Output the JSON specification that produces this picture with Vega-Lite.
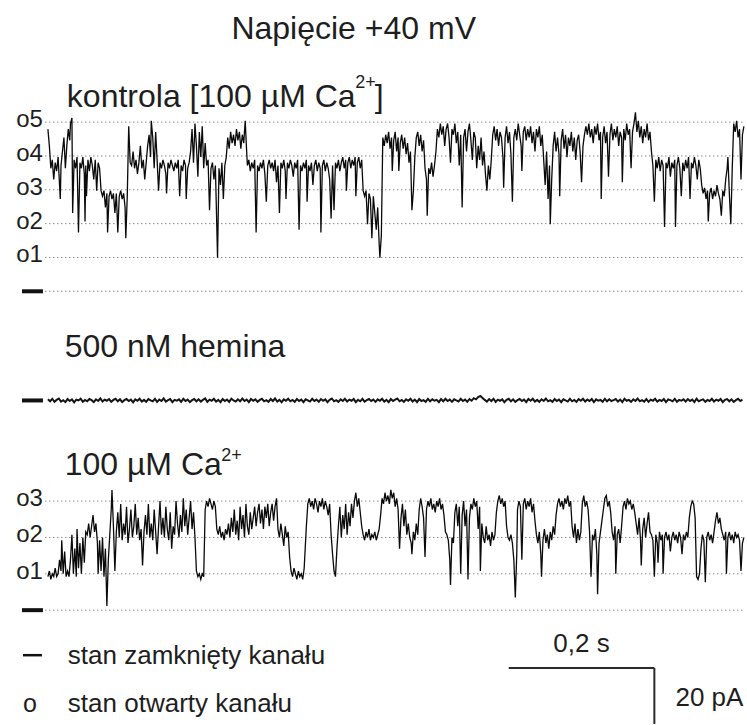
{
  "$schema": "https://vega.github.io/schema/vega-lite/v6.json",
  "width": 747,
  "height": 725,
  "autosize": {"type": "fit", "contains": "padding"},
  "padding": 0,
  "background": "white",
  "config": {
    "view": {"stroke": null},
    "text": {"font": "Liberation Sans", "color": "#1e1e1e"}
  },
  "datasets": {
    "kontrola": [
      {"ms":0,"pA":58},{"ms":2,"pA":52},{"ms":4,"pA":44},{"ms":6,"pA":47},{"ms":8,"pA":40},{"ms":10,"pA":46},{"ms":12,"pA":43},{"ms":14,"pA":48},{"ms":16,"pA":38},{"ms":17,"pA":33},
      {"ms":18,"pA":45},{"ms":20,"pA":50},{"ms":22,"pA":55},{"ms":24,"pA":44},{"ms":26,"pA":52},{"ms":28,"pA":58},{"ms":30,"pA":54},{"ms":31,"pA":60},{"ms":33,"pA":62},{"ms":34,"pA":28},
      {"ms":36,"pA":47},{"ms":38,"pA":44},{"ms":40,"pA":48},{"ms":42,"pA":21},{"ms":44,"pA":46},{"ms":46,"pA":44},{"ms":48,"pA":48},{"ms":50,"pA":42},{"ms":51,"pA":25},{"ms":52,"pA":45},
      {"ms":53,"pA":34},{"ms":55,"pA":47},{"ms":57,"pA":43},{"ms":59,"pA":48},{"ms":61,"pA":45},{"ms":63,"pA":40},{"ms":65,"pA":47},{"ms":67,"pA":36},{"ms":69,"pA":46},{"ms":71,"pA":44},
      {"ms":73,"pA":36},{"ms":75,"pA":34},{"ms":77,"pA":36},{"ms":79,"pA":30},{"ms":81,"pA":35},{"ms":82,"pA":21},{"ms":84,"pA":34},{"ms":86,"pA":36},{"ms":88,"pA":33},{"ms":90,"pA":35},
      {"ms":92,"pA":28},{"ms":94,"pA":35},{"ms":96,"pA":21},{"ms":98,"pA":34},{"ms":100,"pA":36},{"ms":102,"pA":33},{"ms":104,"pA":35},{"ms":106,"pA":30},{"ms":107,"pA":19},{"ms":109,"pA":34},
      {"ms":111,"pA":59},{"ms":113,"pA":46},{"ms":115,"pA":45},{"ms":117,"pA":50},{"ms":119,"pA":44},{"ms":121,"pA":47},{"ms":123,"pA":42},{"ms":125,"pA":46},{"ms":127,"pA":52},{"ms":129,"pA":44},
      {"ms":131,"pA":47},{"ms":133,"pA":40},{"ms":135,"pA":46},{"ms":137,"pA":52},{"ms":139,"pA":56},{"ms":141,"pA":48},{"ms":142,"pA":61},{"ms":144,"pA":55},{"ms":146,"pA":44},{"ms":148,"pA":57},
      {"ms":150,"pA":47},{"ms":152,"pA":36},{"ms":154,"pA":46},{"ms":156,"pA":44},{"ms":158,"pA":47},{"ms":160,"pA":45},{"ms":162,"pA":42},{"ms":163,"pA":35},{"ms":165,"pA":46},{"ms":167,"pA":44},
      {"ms":169,"pA":47},{"ms":171,"pA":45},{"ms":173,"pA":43},{"ms":175,"pA":46},{"ms":177,"pA":44},{"ms":179,"pA":47},{"ms":181,"pA":34},{"ms":183,"pA":45},{"ms":185,"pA":43},{"ms":187,"pA":47},
      {"ms":189,"pA":45},{"ms":190,"pA":33},{"ms":192,"pA":44},{"ms":194,"pA":46},{"ms":196,"pA":50},{"ms":198,"pA":58},{"ms":200,"pA":46},{"ms":202,"pA":60},{"ms":204,"pA":52},{"ms":206,"pA":41},
      {"ms":208,"pA":57},{"ms":210,"pA":48},{"ms":212,"pA":59},{"ms":214,"pA":44},{"ms":216,"pA":53},{"ms":218,"pA":45},{"ms":220,"pA":47},{"ms":222,"pA":29},{"ms":224,"pA":44},{"ms":226,"pA":46},
      {"ms":228,"pA":40},{"ms":230,"pA":45},{"ms":233,"pA":12},{"ms":235,"pA":44},{"ms":237,"pA":38},{"ms":239,"pA":46},{"ms":241,"pA":33},{"ms":243,"pA":45},{"ms":245,"pA":48},{"ms":247,"pA":55},
      {"ms":249,"pA":51},{"ms":251,"pA":57},{"ms":253,"pA":53},{"ms":255,"pA":56},{"ms":257,"pA":52},{"ms":259,"pA":58},{"ms":261,"pA":54},{"ms":263,"pA":57},{"ms":265,"pA":51},{"ms":267,"pA":56},
      {"ms":269,"pA":53},{"ms":271,"pA":61},{"ms":273,"pA":50},{"ms":274,"pA":45},{"ms":276,"pA":47},{"ms":278,"pA":43},{"ms":280,"pA":46},{"ms":282,"pA":44},{"ms":284,"pA":47},{"ms":286,"pA":21},
      {"ms":288,"pA":45},{"ms":290,"pA":43},{"ms":292,"pA":46},{"ms":294,"pA":44},{"ms":296,"pA":47},{"ms":298,"pA":42},{"ms":300,"pA":32},{"ms":302,"pA":45},{"ms":304,"pA":47},{"ms":306,"pA":44},
      {"ms":308,"pA":46},{"ms":310,"pA":43},{"ms":312,"pA":47},{"ms":314,"pA":39},{"ms":316,"pA":45},{"ms":318,"pA":28},{"ms":320,"pA":46},{"ms":322,"pA":44},{"ms":324,"pA":47},{"ms":326,"pA":43},
      {"ms":327,"pA":33},{"ms":329,"pA":46},{"ms":331,"pA":44},{"ms":333,"pA":47},{"ms":335,"pA":45},{"ms":337,"pA":41},{"ms":339,"pA":46},{"ms":341,"pA":44},{"ms":343,"pA":47},{"ms":345,"pA":22},
      {"ms":347,"pA":45},{"ms":349,"pA":43},{"ms":351,"pA":46},{"ms":353,"pA":44},{"ms":355,"pA":47},{"ms":356,"pA":32},{"ms":358,"pA":45},{"ms":360,"pA":43},{"ms":362,"pA":46},{"ms":364,"pA":38},
      {"ms":366,"pA":45},{"ms":368,"pA":47},{"ms":370,"pA":43},{"ms":372,"pA":46},{"ms":374,"pA":44},{"ms":375,"pA":21},{"ms":377,"pA":45},{"ms":379,"pA":47},{"ms":381,"pA":43},{"ms":383,"pA":46},
      {"ms":385,"pA":44},{"ms":387,"pA":40},{"ms":389,"pA":26},{"ms":391,"pA":45},{"ms":393,"pA":29},{"ms":395,"pA":46},{"ms":397,"pA":44},{"ms":399,"pA":47},{"ms":401,"pA":43},{"ms":403,"pA":46},
      {"ms":405,"pA":48},{"ms":407,"pA":44},{"ms":409,"pA":47},{"ms":410,"pA":36},{"ms":412,"pA":46},{"ms":414,"pA":48},{"ms":416,"pA":44},{"ms":418,"pA":47},{"ms":420,"pA":45},{"ms":422,"pA":48},
      {"ms":423,"pA":34},{"ms":425,"pA":46},{"ms":427,"pA":48},{"ms":429,"pA":44},{"ms":431,"pA":47},{"ms":433,"pA":36},{"ms":435,"pA":34},{"ms":437,"pA":36},{"ms":439,"pA":24},{"ms":441,"pA":35},
      {"ms":443,"pA":33},{"ms":445,"pA":19},{"ms":447,"pA":34},{"ms":449,"pA":28},{"ms":451,"pA":22},{"ms":453,"pA":30},{"ms":455,"pA":17},{"ms":456,"pA":12},{"ms":458,"pA":20},{"ms":460,"pA":55},
      {"ms":462,"pA":52},{"ms":464,"pA":56},{"ms":466,"pA":53},{"ms":468,"pA":57},{"ms":470,"pA":51},{"ms":472,"pA":55},{"ms":473,"pA":43},{"ms":475,"pA":54},{"ms":477,"pA":57},{"ms":479,"pA":50},
      {"ms":481,"pA":55},{"ms":482,"pA":43},{"ms":484,"pA":53},{"ms":486,"pA":56},{"ms":488,"pA":51},{"ms":490,"pA":55},{"ms":492,"pA":49},{"ms":494,"pA":53},{"ms":496,"pA":46},{"ms":498,"pA":50},
      {"ms":500,"pA":29},{"ms":502,"pA":36},{"ms":504,"pA":48},{"ms":506,"pA":55},{"ms":508,"pA":57},{"ms":510,"pA":52},{"ms":512,"pA":56},{"ms":514,"pA":50},{"ms":516,"pA":54},{"ms":518,"pA":44},
      {"ms":520,"pA":40},{"ms":521,"pA":27},{"ms":523,"pA":44},{"ms":525,"pA":42},{"ms":527,"pA":46},{"ms":529,"pA":41},{"ms":531,"pA":45},{"ms":533,"pA":50},{"ms":535,"pA":58},{"ms":537,"pA":55},
      {"ms":539,"pA":60},{"ms":541,"pA":56},{"ms":543,"pA":59},{"ms":545,"pA":52},{"ms":547,"pA":58},{"ms":549,"pA":60},{"ms":551,"pA":55},{"ms":553,"pA":46},{"ms":555,"pA":58},{"ms":557,"pA":56},
      {"ms":559,"pA":60},{"ms":561,"pA":53},{"ms":563,"pA":57},{"ms":565,"pA":45},{"ms":567,"pA":56},{"ms":569,"pA":30},{"ms":571,"pA":55},{"ms":573,"pA":58},{"ms":575,"pA":50},{"ms":577,"pA":57},
      {"ms":579,"pA":60},{"ms":581,"pA":54},{"ms":583,"pA":47},{"ms":585,"pA":57},{"ms":587,"pA":55},{"ms":589,"pA":44},{"ms":591,"pA":52},{"ms":593,"pA":47},{"ms":595,"pA":55},{"ms":597,"pA":45},
      {"ms":599,"pA":50},{"ms":601,"pA":42},{"ms":603,"pA":36},{"ms":605,"pA":45},{"ms":607,"pA":40},{"ms":609,"pA":47},{"ms":611,"pA":56},{"ms":613,"pA":59},{"ms":615,"pA":54},{"ms":617,"pA":58},
      {"ms":619,"pA":52},{"ms":621,"pA":57},{"ms":623,"pA":55},{"ms":625,"pA":48},{"ms":626,"pA":37},{"ms":628,"pA":55},{"ms":630,"pA":59},{"ms":632,"pA":53},{"ms":634,"pA":57},{"ms":636,"pA":49},
      {"ms":638,"pA":32},{"ms":640,"pA":55},{"ms":642,"pA":58},{"ms":644,"pA":54},{"ms":646,"pA":60},{"ms":648,"pA":56},{"ms":650,"pA":52},{"ms":651,"pA":43},{"ms":653,"pA":57},{"ms":655,"pA":59},
      {"ms":657,"pA":54},{"ms":659,"pA":58},{"ms":661,"pA":55},{"ms":663,"pA":59},{"ms":665,"pA":53},{"ms":667,"pA":57},{"ms":669,"pA":50},{"ms":671,"pA":58},{"ms":673,"pA":55},{"ms":675,"pA":59},
      {"ms":677,"pA":52},{"ms":679,"pA":56},{"ms":681,"pA":47},{"ms":683,"pA":38},{"ms":685,"pA":50},{"ms":687,"pA":33},{"ms":689,"pA":45},{"ms":690,"pA":24},{"ms":692,"pA":40},{"ms":694,"pA":52},
      {"ms":696,"pA":57},{"ms":698,"pA":50},{"ms":700,"pA":55},{"ms":702,"pA":49},{"ms":703,"pA":34},{"ms":705,"pA":54},{"ms":707,"pA":58},{"ms":709,"pA":51},{"ms":711,"pA":56},{"ms":713,"pA":48},
      {"ms":715,"pA":55},{"ms":717,"pA":52},{"ms":719,"pA":57},{"ms":721,"pA":50},{"ms":723,"pA":55},{"ms":725,"pA":47},{"ms":727,"pA":54},{"ms":729,"pA":56},{"ms":731,"pA":50},{"ms":733,"pA":39},
      {"ms":735,"pA":52},{"ms":737,"pA":56},{"ms":739,"pA":59},{"ms":741,"pA":56},{"ms":743,"pA":60},{"ms":745,"pA":55},{"ms":747,"pA":58},{"ms":749,"pA":53},{"ms":751,"pA":59},{"ms":753,"pA":56},
      {"ms":755,"pA":60},{"ms":757,"pA":54},{"ms":759,"pA":57},{"ms":760,"pA":33},{"ms":762,"pA":55},{"ms":764,"pA":59},{"ms":766,"pA":53},{"ms":768,"pA":57},{"ms":770,"pA":41},{"ms":772,"pA":56},
      {"ms":774,"pA":60},{"ms":776,"pA":54},{"ms":778,"pA":58},{"ms":780,"pA":55},{"ms":782,"pA":59},{"ms":784,"pA":52},{"ms":786,"pA":57},{"ms":788,"pA":55},{"ms":789,"pA":39},{"ms":791,"pA":58},
      {"ms":793,"pA":54},{"ms":795,"pA":60},{"ms":797,"pA":56},{"ms":799,"pA":58},{"ms":801,"pA":44},{"ms":803,"pA":57},{"ms":805,"pA":60},{"ms":807,"pA":64},{"ms":809,"pA":57},{"ms":811,"pA":61},
      {"ms":813,"pA":55},{"ms":815,"pA":59},{"ms":817,"pA":53},{"ms":819,"pA":58},{"ms":821,"pA":55},{"ms":823,"pA":60},{"ms":825,"pA":54},{"ms":827,"pA":57},{"ms":829,"pA":50},{"ms":831,"pA":45},
      {"ms":833,"pA":32},{"ms":835,"pA":47},{"ms":837,"pA":44},{"ms":839,"pA":48},{"ms":841,"pA":43},{"ms":843,"pA":47},{"ms":845,"pA":45},{"ms":847,"pA":23},{"ms":849,"pA":46},{"ms":851,"pA":44},
      {"ms":853,"pA":48},{"ms":855,"pA":41},{"ms":857,"pA":46},{"ms":859,"pA":44},{"ms":861,"pA":47},{"ms":862,"pA":23},{"ms":864,"pA":45},{"ms":866,"pA":48},{"ms":868,"pA":44},{"ms":870,"pA":34},
      {"ms":872,"pA":46},{"ms":874,"pA":43},{"ms":876,"pA":47},{"ms":878,"pA":44},{"ms":880,"pA":48},{"ms":882,"pA":33},{"ms":884,"pA":46},{"ms":886,"pA":44},{"ms":888,"pA":48},{"ms":890,"pA":45},
      {"ms":892,"pA":40},{"ms":894,"pA":47},{"ms":896,"pA":44},{"ms":898,"pA":38},{"ms":900,"pA":35},{"ms":902,"pA":37},{"ms":904,"pA":33},{"ms":906,"pA":36},{"ms":907,"pA":25},{"ms":909,"pA":35},
      {"ms":911,"pA":37},{"ms":913,"pA":33},{"ms":915,"pA":36},{"ms":917,"pA":34},{"ms":919,"pA":38},{"ms":921,"pA":35},{"ms":923,"pA":33},{"ms":925,"pA":27},{"ms":927,"pA":36},{"ms":929,"pA":34},
      {"ms":931,"pA":40},{"ms":933,"pA":44},{"ms":934,"pA":48},{"ms":936,"pA":35},{"ms":938,"pA":24},{"ms":940,"pA":44},{"ms":942,"pA":60},{"ms":944,"pA":57},{"ms":946,"pA":61},{"ms":948,"pA":55},
      {"ms":950,"pA":58},{"ms":952,"pA":40},{"ms":954,"pA":56},{"ms":956,"pA":59}
    ],
    "hemina": [
      {"ms":0,"pA":0.4},{"ms":3,"pA":-0.3},{"ms":6,"pA":0.6},{"ms":9,"pA":-0.5},{"ms":12,"pA":0.2},{"ms":15,"pA":0.7},{"ms":18,"pA":-0.4},{"ms":21,"pA":0.1},{"ms":24,"pA":-0.6},{"ms":27,"pA":0.5},
      {"ms":30,"pA":-0.2},{"ms":33,"pA":0.4},{"ms":36,"pA":-0.7},{"ms":39,"pA":0.3},{"ms":42,"pA":0},{"ms":45,"pA":0.6},{"ms":48,"pA":-0.5},{"ms":51,"pA":0.2},{"ms":54,"pA":-0.3},{"ms":57,"pA":0.5},
      {"ms":60,"pA":0.1},{"ms":63,"pA":-0.6},{"ms":66,"pA":0.4},{"ms":69,"pA":-0.2},{"ms":72,"pA":0.7},{"ms":75,"pA":-0.4},{"ms":78,"pA":0.3},{"ms":81,"pA":-0.1},{"ms":84,"pA":0.5},{"ms":87,"pA":-0.5},
      {"ms":90,"pA":0.2},{"ms":93,"pA":0.6},{"ms":96,"pA":-0.3},{"ms":99,"pA":0.4},{"ms":102,"pA":-0.6},{"ms":105,"pA":0.1},{"ms":108,"pA":0.5},{"ms":111,"pA":-0.2},{"ms":114,"pA":0.3},{"ms":117,"pA":-0.7},
      {"ms":120,"pA":0.4},{"ms":123,"pA":-0.1},{"ms":126,"pA":0.6},{"ms":129,"pA":-0.4},{"ms":132,"pA":0.2},{"ms":135,"pA":-0.5},{"ms":138,"pA":0.5},{"ms":141,"pA":0},{"ms":144,"pA":-0.3},{"ms":147,"pA":0.6},
      {"ms":150,"pA":-0.5},{"ms":153,"pA":0.3},{"ms":156,"pA":-0.2},{"ms":159,"pA":0.7},{"ms":162,"pA":-0.4},{"ms":165,"pA":0.1},{"ms":168,"pA":0.5},{"ms":171,"pA":-0.6},{"ms":174,"pA":0.2},{"ms":177,"pA":-0.1},
      {"ms":180,"pA":0.4},{"ms":183,"pA":-0.5},{"ms":186,"pA":0.6},{"ms":189,"pA":-0.2},{"ms":192,"pA":0.3},{"ms":195,"pA":-0.6},{"ms":198,"pA":0.1},{"ms":201,"pA":0.5},{"ms":204,"pA":-0.3},{"ms":207,"pA":0.4},
      {"ms":210,"pA":-0.4},{"ms":213,"pA":0.2},{"ms":216,"pA":0.7},{"ms":219,"pA":-0.5},{"ms":222,"pA":0.3},{"ms":225,"pA":-0.1},{"ms":228,"pA":0.6},{"ms":231,"pA":-0.4},{"ms":234,"pA":0.2},{"ms":237,"pA":-0.6},
      {"ms":240,"pA":0.5},{"ms":243,"pA":-0.2},{"ms":246,"pA":0.3},{"ms":249,"pA":-0.5},{"ms":252,"pA":0.6},{"ms":255,"pA":0},{"ms":258,"pA":-0.4},{"ms":261,"pA":0.4},{"ms":264,"pA":-0.3},{"ms":267,"pA":0.7},
      {"ms":270,"pA":-0.2},{"ms":273,"pA":0.3},{"ms":276,"pA":-0.6},{"ms":279,"pA":0.5},{"ms":282,"pA":-0.1},{"ms":285,"pA":0.4},{"ms":288,"pA":-0.5},{"ms":291,"pA":0.2},{"ms":294,"pA":0.6},{"ms":297,"pA":-0.3},
      {"ms":300,"pA":0.1},{"ms":303,"pA":-0.5},{"ms":306,"pA":0.5},{"ms":309,"pA":-0.2},{"ms":312,"pA":0.7},{"ms":315,"pA":-0.4},{"ms":318,"pA":0.2},{"ms":321,"pA":-0.6},{"ms":324,"pA":0.4},{"ms":327,"pA":-0.1},
      {"ms":330,"pA":0.6},{"ms":333,"pA":-0.3},{"ms":336,"pA":0.2},{"ms":339,"pA":-0.5},{"ms":342,"pA":0.5},{"ms":345,"pA":-0.2},{"ms":348,"pA":0.3},{"ms":351,"pA":-0.6},{"ms":354,"pA":0.4},{"ms":357,"pA":0},
      {"ms":360,"pA":-0.4},{"ms":363,"pA":0.6},{"ms":366,"pA":-0.2},{"ms":369,"pA":0.3},{"ms":372,"pA":-0.5},{"ms":375,"pA":0.5},{"ms":378,"pA":-0.1},{"ms":381,"pA":0.4},{"ms":384,"pA":-0.6},{"ms":387,"pA":0.2},
      {"ms":390,"pA":0.7},{"ms":393,"pA":-0.3},{"ms":396,"pA":0.1},{"ms":399,"pA":-0.5},{"ms":402,"pA":0.4},{"ms":405,"pA":-0.2},{"ms":408,"pA":0.6},{"ms":411,"pA":-0.4},{"ms":414,"pA":0.3},{"ms":417,"pA":-0.1},
      {"ms":420,"pA":0.5},{"ms":423,"pA":-0.6},{"ms":426,"pA":0.2},{"ms":429,"pA":-0.3},{"ms":432,"pA":0.6},{"ms":435,"pA":-0.4},{"ms":438,"pA":0.1},{"ms":441,"pA":0.5},{"ms":444,"pA":-0.2},{"ms":447,"pA":0.3},
      {"ms":450,"pA":-0.5},{"ms":453,"pA":0.4},{"ms":456,"pA":-0.1},{"ms":459,"pA":0.6},{"ms":462,"pA":-0.4},{"ms":465,"pA":0.2},{"ms":468,"pA":-0.6},{"ms":471,"pA":0.5},{"ms":474,"pA":-0.2},{"ms":477,"pA":0.3},
      {"ms":480,"pA":0.7},{"ms":483,"pA":-0.3},{"ms":486,"pA":0.2},{"ms":489,"pA":-0.5},{"ms":492,"pA":0.4},{"ms":495,"pA":-0.1},{"ms":498,"pA":0.6},{"ms":501,"pA":-0.4},{"ms":504,"pA":0.3},{"ms":507,"pA":-0.6},
      {"ms":510,"pA":0.5},{"ms":513,"pA":-0.2},{"ms":516,"pA":0.1},{"ms":519,"pA":-0.5},{"ms":522,"pA":0.6},{"ms":525,"pA":-0.3},{"ms":528,"pA":0.4},{"ms":531,"pA":-0.1},{"ms":534,"pA":0.2},{"ms":537,"pA":-0.6},
      {"ms":540,"pA":0.5},{"ms":543,"pA":-0.3},{"ms":546,"pA":0.6},{"ms":549,"pA":-0.2},{"ms":552,"pA":0.3},{"ms":555,"pA":-0.5},{"ms":558,"pA":0.4},{"ms":561,"pA":0},{"ms":564,"pA":-0.4},{"ms":567,"pA":0.6},
      {"ms":570,"pA":-0.2},{"ms":573,"pA":0.3},{"ms":576,"pA":-0.5},{"ms":579,"pA":0.5},{"ms":582,"pA":-0.1},{"ms":585,"pA":0.8},{"ms":588,"pA":0.4},{"ms":591,"pA":1.2},{"ms":594,"pA":1.6},{"ms":597,"pA":0.9},
      {"ms":600,"pA":0.2},{"ms":603,"pA":-0.4},{"ms":606,"pA":0.5},{"ms":609,"pA":-0.2},{"ms":612,"pA":0.6},{"ms":615,"pA":-0.5},{"ms":618,"pA":0.3},{"ms":621,"pA":-0.1},{"ms":624,"pA":0.4},{"ms":627,"pA":-0.6},
      {"ms":630,"pA":0.2},{"ms":633,"pA":0.6},{"ms":636,"pA":-0.3},{"ms":639,"pA":0.4},{"ms":642,"pA":-0.5},{"ms":645,"pA":0.1},{"ms":648,"pA":0.5},{"ms":651,"pA":-0.2},{"ms":654,"pA":0.3},{"ms":657,"pA":-0.6},
      {"ms":660,"pA":0.5},{"ms":663,"pA":-0.1},{"ms":666,"pA":0.6},{"ms":669,"pA":-0.4},{"ms":672,"pA":0.2},{"ms":675,"pA":-0.5},{"ms":678,"pA":0.4},{"ms":681,"pA":-0.2},{"ms":684,"pA":0.7},{"ms":687,"pA":-0.3},
      {"ms":690,"pA":0.1},{"ms":693,"pA":-0.5},{"ms":696,"pA":0.5},{"ms":699,"pA":-0.2},{"ms":702,"pA":0.3},{"ms":705,"pA":-0.6},{"ms":708,"pA":0.4},{"ms":711,"pA":0},{"ms":714,"pA":-0.4},{"ms":717,"pA":0.6},
      {"ms":720,"pA":-0.3},{"ms":723,"pA":0.2},{"ms":726,"pA":-0.5},{"ms":729,"pA":0.5},{"ms":732,"pA":-0.1},{"ms":735,"pA":0.6},{"ms":738,"pA":-0.4},{"ms":741,"pA":0.3},{"ms":744,"pA":-0.2},{"ms":747,"pA":0.5},
      {"ms":750,"pA":-0.6},{"ms":753,"pA":0.4},{"ms":756,"pA":-0.1},{"ms":759,"pA":0.2},{"ms":762,"pA":-0.5},{"ms":765,"pA":0.6},{"ms":768,"pA":-0.3},{"ms":771,"pA":0.4},{"ms":774,"pA":-0.2},{"ms":777,"pA":0.1},
      {"ms":780,"pA":0.5},{"ms":783,"pA":-0.4},{"ms":786,"pA":0.3},{"ms":789,"pA":-0.6},{"ms":792,"pA":0.6},{"ms":795,"pA":-0.1},{"ms":798,"pA":0.2},{"ms":801,"pA":-0.5},{"ms":804,"pA":0.4},{"ms":807,"pA":-0.2},
      {"ms":810,"pA":0.7},{"ms":813,"pA":-0.3},{"ms":816,"pA":0.1},{"ms":819,"pA":-0.4},{"ms":822,"pA":0.5},{"ms":825,"pA":-0.5},{"ms":828,"pA":0.3},{"ms":831,"pA":-0.1},{"ms":834,"pA":0.6},{"ms":837,"pA":-0.4},
      {"ms":840,"pA":0.2},{"ms":843,"pA":-0.2},{"ms":846,"pA":0.5},{"ms":849,"pA":-0.6},{"ms":852,"pA":0.4},{"ms":855,"pA":0.1},{"ms":858,"pA":-0.3},{"ms":861,"pA":0.6},{"ms":864,"pA":-0.5},{"ms":867,"pA":0.2},
      {"ms":870,"pA":-0.1},{"ms":873,"pA":0.4},{"ms":876,"pA":-0.4},{"ms":879,"pA":0.5},{"ms":882,"pA":-0.2},{"ms":885,"pA":0.3},{"ms":888,"pA":-0.6},{"ms":891,"pA":0.6},{"ms":894,"pA":-0.3},{"ms":897,"pA":0.1},
      {"ms":900,"pA":0.4},{"ms":903,"pA":-0.5},{"ms":906,"pA":0.2},{"ms":909,"pA":-0.2},{"ms":912,"pA":0.6},{"ms":915,"pA":-0.4},{"ms":918,"pA":0.3},{"ms":921,"pA":-0.1},{"ms":924,"pA":0.5},{"ms":927,"pA":-0.6},
      {"ms":930,"pA":0.2},{"ms":933,"pA":0.5},{"ms":936,"pA":-0.3},{"ms":939,"pA":0.4},{"ms":942,"pA":-0.5},{"ms":945,"pA":0.1},{"ms":948,"pA":0.6},{"ms":951,"pA":-0.2},{"ms":954,"pA":0.3}
    ],
    "wapn": [
      {"ms":0,"pA":12},{"ms":2,"pA":14},{"ms":4,"pA":11},{"ms":6,"pA":13},{"ms":8,"pA":12},{"ms":10,"pA":15},{"ms":12,"pA":12},{"ms":14,"pA":13},{"ms":16,"pA":18},{"ms":18,"pA":14},
      {"ms":19,"pA":25},{"ms":21,"pA":13},{"ms":23,"pA":21},{"ms":25,"pA":12},{"ms":27,"pA":14},{"ms":29,"pA":12},{"ms":31,"pA":18},{"ms":33,"pA":27},{"ms":35,"pA":13},{"ms":37,"pA":22},
      {"ms":39,"pA":12},{"ms":40,"pA":29},{"ms":42,"pA":15},{"ms":44,"pA":24},{"ms":46,"pA":13},{"ms":48,"pA":26},{"ms":50,"pA":17},{"ms":52,"pA":28},{"ms":54,"pA":27},{"ms":56,"pA":31},
      {"ms":58,"pA":26},{"ms":60,"pA":30},{"ms":62,"pA":34},{"ms":64,"pA":28},{"ms":66,"pA":31},{"ms":68,"pA":24},{"ms":69,"pA":13},{"ms":71,"pA":25},{"ms":73,"pA":14},{"ms":75,"pA":26},
      {"ms":77,"pA":12},{"ms":79,"pA":22},{"ms":81,"pA":1.5},{"ms":83,"pA":18},{"ms":85,"pA":27},{"ms":87,"pA":36},{"ms":88,"pA":43},{"ms":90,"pA":30},{"ms":92,"pA":14},{"ms":94,"pA":28},
      {"ms":96,"pA":35},{"ms":98,"pA":26},{"ms":100,"pA":38},{"ms":102,"pA":25},{"ms":104,"pA":31},{"ms":106,"pA":27},{"ms":108,"pA":37},{"ms":110,"pA":24},{"ms":112,"pA":29},{"ms":114,"pA":36},
      {"ms":116,"pA":26},{"ms":118,"pA":30},{"ms":120,"pA":38},{"ms":122,"pA":27},{"ms":124,"pA":33},{"ms":126,"pA":25},{"ms":128,"pA":29},{"ms":130,"pA":16},{"ms":132,"pA":28},{"ms":134,"pA":34},
      {"ms":136,"pA":27},{"ms":138,"pA":38},{"ms":140,"pA":26},{"ms":142,"pA":31},{"ms":144,"pA":25},{"ms":146,"pA":36},{"ms":148,"pA":28},{"ms":150,"pA":20},{"ms":152,"pA":30},{"ms":154,"pA":39},
      {"ms":156,"pA":27},{"ms":158,"pA":33},{"ms":160,"pA":26},{"ms":162,"pA":37},{"ms":164,"pA":29},{"ms":166,"pA":25},{"ms":168,"pA":35},{"ms":170,"pA":22},{"ms":172,"pA":30},{"ms":174,"pA":27},
      {"ms":176,"pA":39},{"ms":178,"pA":31},{"ms":180,"pA":26},{"ms":182,"pA":34},{"ms":184,"pA":28},{"ms":186,"pA":40},{"ms":188,"pA":30},{"ms":190,"pA":36},{"ms":192,"pA":27},{"ms":194,"pA":33},
      {"ms":196,"pA":39},{"ms":198,"pA":29},{"ms":200,"pA":35},{"ms":202,"pA":26},{"ms":204,"pA":14},{"ms":206,"pA":12},{"ms":208,"pA":13},{"ms":210,"pA":11},{"ms":212,"pA":13},{"ms":214,"pA":12},
      {"ms":216,"pA":36},{"ms":218,"pA":39},{"ms":220,"pA":37},{"ms":222,"pA":40},{"ms":224,"pA":38},{"ms":226,"pA":36},{"ms":228,"pA":39},{"ms":230,"pA":37},{"ms":232,"pA":29},{"ms":234,"pA":27},
      {"ms":236,"pA":30},{"ms":238,"pA":26},{"ms":240,"pA":28},{"ms":242,"pA":25},{"ms":244,"pA":29},{"ms":246,"pA":27},{"ms":248,"pA":31},{"ms":250,"pA":26},{"ms":252,"pA":33},{"ms":254,"pA":28},
      {"ms":256,"pA":36},{"ms":258,"pA":27},{"ms":260,"pA":32},{"ms":262,"pA":25},{"ms":264,"pA":37},{"ms":266,"pA":29},{"ms":268,"pA":34},{"ms":270,"pA":26},{"ms":272,"pA":38},{"ms":274,"pA":30},
      {"ms":276,"pA":27},{"ms":278,"pA":35},{"ms":280,"pA":29},{"ms":282,"pA":33},{"ms":284,"pA":37},{"ms":286,"pA":30},{"ms":288,"pA":35},{"ms":290,"pA":38},{"ms":292,"pA":31},{"ms":294,"pA":36},
      {"ms":296,"pA":29},{"ms":298,"pA":37},{"ms":300,"pA":33},{"ms":302,"pA":38},{"ms":304,"pA":30},{"ms":306,"pA":35},{"ms":308,"pA":38},{"ms":310,"pA":32},{"ms":312,"pA":37},{"ms":314,"pA":40},
      {"ms":316,"pA":29},{"ms":318,"pA":26},{"ms":320,"pA":31},{"ms":322,"pA":27},{"ms":324,"pA":23},{"ms":326,"pA":30},{"ms":328,"pA":26},{"ms":330,"pA":28},{"ms":332,"pA":19},{"ms":334,"pA":14},
      {"ms":336,"pA":12},{"ms":338,"pA":15},{"ms":340,"pA":13},{"ms":342,"pA":11},{"ms":344,"pA":14},{"ms":346,"pA":12},{"ms":348,"pA":13},{"ms":350,"pA":11},{"ms":352,"pA":15},{"ms":355,"pA":30},
      {"ms":357,"pA":38},{"ms":359,"pA":40},{"ms":361,"pA":37},{"ms":363,"pA":39},{"ms":365,"pA":36},{"ms":367,"pA":40},{"ms":369,"pA":38},{"ms":371,"pA":35},{"ms":373,"pA":39},{"ms":375,"pA":37},
      {"ms":377,"pA":40},{"ms":379,"pA":36},{"ms":381,"pA":39},{"ms":383,"pA":37},{"ms":385,"pA":34},{"ms":387,"pA":38},{"ms":389,"pA":27},{"ms":391,"pA":20},{"ms":393,"pA":14},{"ms":395,"pA":12},
      {"ms":397,"pA":22},{"ms":399,"pA":30},{"ms":401,"pA":37},{"ms":403,"pA":26},{"ms":405,"pA":34},{"ms":407,"pA":29},{"ms":409,"pA":38},{"ms":411,"pA":27},{"ms":413,"pA":35},{"ms":415,"pA":30},
      {"ms":417,"pA":38},{"ms":419,"pA":33},{"ms":421,"pA":39},{"ms":423,"pA":42},{"ms":425,"pA":37},{"ms":427,"pA":40},{"ms":429,"pA":35},{"ms":431,"pA":30},{"ms":433,"pA":27},{"ms":435,"pA":25},
      {"ms":437,"pA":28},{"ms":439,"pA":26},{"ms":441,"pA":29},{"ms":443,"pA":25},{"ms":445,"pA":27},{"ms":447,"pA":26},{"ms":449,"pA":28},{"ms":451,"pA":25},{"ms":453,"pA":27},{"ms":455,"pA":29},
      {"ms":457,"pA":34},{"ms":459,"pA":40},{"ms":461,"pA":38},{"ms":463,"pA":42},{"ms":465,"pA":39},{"ms":467,"pA":41},{"ms":469,"pA":38},{"ms":471,"pA":43},{"ms":473,"pA":40},{"ms":475,"pA":42},
      {"ms":477,"pA":37},{"ms":479,"pA":40},{"ms":481,"pA":36},{"ms":483,"pA":22},{"ms":485,"pA":33},{"ms":487,"pA":38},{"ms":489,"pA":30},{"ms":491,"pA":36},{"ms":493,"pA":27},{"ms":495,"pA":31},
      {"ms":497,"pA":26},{"ms":499,"pA":24},{"ms":500,"pA":20},{"ms":502,"pA":28},{"ms":504,"pA":25},{"ms":506,"pA":31},{"ms":508,"pA":27},{"ms":510,"pA":36},{"ms":512,"pA":40},{"ms":514,"pA":37},
      {"ms":516,"pA":33},{"ms":518,"pA":19},{"ms":520,"pA":36},{"ms":522,"pA":39},{"ms":524,"pA":37},{"ms":526,"pA":40},{"ms":528,"pA":36},{"ms":530,"pA":38},{"ms":532,"pA":35},{"ms":534,"pA":39},
      {"ms":536,"pA":37},{"ms":538,"pA":40},{"ms":540,"pA":36},{"ms":542,"pA":38},{"ms":544,"pA":34},{"ms":546,"pA":28},{"ms":548,"pA":27},{"ms":550,"pA":25},{"ms":552,"pA":18},{"ms":553,"pA":9},
      {"ms":555,"pA":26},{"ms":557,"pA":24},{"ms":559,"pA":35},{"ms":561,"pA":38},{"ms":563,"pA":30},{"ms":565,"pA":37},{"ms":567,"pA":13},{"ms":569,"pA":34},{"ms":571,"pA":39},{"ms":573,"pA":30},
      {"ms":575,"pA":36},{"ms":577,"pA":11},{"ms":579,"pA":33},{"ms":581,"pA":38},{"ms":583,"pA":36},{"ms":585,"pA":40},{"ms":587,"pA":37},{"ms":589,"pA":39},{"ms":591,"pA":29},{"ms":593,"pA":37},
      {"ms":594,"pA":14},{"ms":596,"pA":31},{"ms":598,"pA":26},{"ms":600,"pA":24},{"ms":602,"pA":30},{"ms":604,"pA":25},{"ms":606,"pA":27},{"ms":608,"pA":23},{"ms":610,"pA":28},{"ms":612,"pA":25},
      {"ms":614,"pA":27},{"ms":616,"pA":35},{"ms":618,"pA":39},{"ms":620,"pA":41},{"ms":622,"pA":38},{"ms":624,"pA":40},{"ms":626,"pA":37},{"ms":628,"pA":39},{"ms":630,"pA":30},{"ms":632,"pA":26},
      {"ms":634,"pA":25},{"ms":636,"pA":27},{"ms":638,"pA":24},{"ms":640,"pA":18},{"ms":642,"pA":4.5},{"ms":644,"pA":20},{"ms":645,"pA":36},{"ms":647,"pA":39},{"ms":649,"pA":37},{"ms":651,"pA":18},
      {"ms":653,"pA":38},{"ms":655,"pA":40},{"ms":657,"pA":36},{"ms":659,"pA":39},{"ms":661,"pA":37},{"ms":663,"pA":40},{"ms":665,"pA":35},{"ms":667,"pA":38},{"ms":669,"pA":32},{"ms":671,"pA":27},
      {"ms":673,"pA":24},{"ms":675,"pA":28},{"ms":677,"pA":20},{"ms":678,"pA":12},{"ms":680,"pA":25},{"ms":682,"pA":29},{"ms":684,"pA":24},{"ms":686,"pA":27},{"ms":688,"pA":22},{"ms":690,"pA":28},
      {"ms":692,"pA":25},{"ms":694,"pA":30},{"ms":696,"pA":27},{"ms":698,"pA":34},{"ms":700,"pA":38},{"ms":702,"pA":40},{"ms":704,"pA":37},{"ms":706,"pA":39},{"ms":708,"pA":36},{"ms":710,"pA":40},
      {"ms":712,"pA":38},{"ms":714,"pA":41},{"ms":716,"pA":37},{"ms":718,"pA":39},{"ms":720,"pA":30},{"ms":722,"pA":26},{"ms":724,"pA":31},{"ms":726,"pA":24},{"ms":728,"pA":29},{"ms":730,"pA":25},
      {"ms":732,"pA":28},{"ms":734,"pA":38},{"ms":736,"pA":41},{"ms":738,"pA":37},{"ms":740,"pA":39},{"ms":742,"pA":36},{"ms":744,"pA":28},{"ms":746,"pA":12},{"ms":748,"pA":27},{"ms":750,"pA":25},
      {"ms":752,"pA":29},{"ms":754,"pA":20},{"ms":755,"pA":5.7},{"ms":757,"pA":24},{"ms":759,"pA":28},{"ms":761,"pA":32},{"ms":763,"pA":36},{"ms":765,"pA":40},{"ms":767,"pA":41},{"ms":769,"pA":37},
      {"ms":771,"pA":39},{"ms":773,"pA":35},{"ms":775,"pA":28},{"ms":777,"pA":25},{"ms":779,"pA":30},{"ms":780,"pA":13},{"ms":782,"pA":27},{"ms":784,"pA":29},{"ms":786,"pA":24},{"ms":788,"pA":30},
      {"ms":790,"pA":37},{"ms":792,"pA":39},{"ms":794,"pA":36},{"ms":796,"pA":40},{"ms":798,"pA":38},{"ms":800,"pA":39},{"ms":802,"pA":36},{"ms":804,"pA":38},{"ms":806,"pA":35},{"ms":808,"pA":31},
      {"ms":810,"pA":27},{"ms":812,"pA":33},{"ms":814,"pA":25},{"ms":815,"pA":16},{"ms":817,"pA":29},{"ms":819,"pA":33},{"ms":821,"pA":26},{"ms":823,"pA":31},{"ms":825,"pA":35},{"ms":827,"pA":28},
      {"ms":829,"pA":27},{"ms":831,"pA":25},{"ms":833,"pA":12},{"ms":835,"pA":27},{"ms":837,"pA":24},{"ms":838,"pA":17},{"ms":840,"pA":28},{"ms":842,"pA":25},{"ms":844,"pA":27},{"ms":845,"pA":13},
      {"ms":847,"pA":26},{"ms":849,"pA":28},{"ms":851,"pA":25},{"ms":853,"pA":27},{"ms":855,"pA":21},{"ms":857,"pA":26},{"ms":859,"pA":28},{"ms":861,"pA":25},{"ms":863,"pA":27},{"ms":865,"pA":24},
      {"ms":867,"pA":28},{"ms":869,"pA":26},{"ms":871,"pA":20},{"ms":873,"pA":27},{"ms":875,"pA":25},{"ms":877,"pA":28},{"ms":879,"pA":26},{"ms":881,"pA":33},{"ms":883,"pA":37},{"ms":885,"pA":39},
      {"ms":887,"pA":38},{"ms":889,"pA":33},{"ms":891,"pA":12},{"ms":893,"pA":11},{"ms":895,"pA":13},{"ms":897,"pA":22},{"ms":899,"pA":27},{"ms":901,"pA":25},{"ms":903,"pA":10},{"ms":905,"pA":26},
      {"ms":907,"pA":28},{"ms":909,"pA":25},{"ms":911,"pA":27},{"ms":913,"pA":24},{"ms":915,"pA":28},{"ms":917,"pA":32},{"ms":919,"pA":35},{"ms":921,"pA":31},{"ms":923,"pA":33},{"ms":925,"pA":29},
      {"ms":927,"pA":27},{"ms":929,"pA":25},{"ms":931,"pA":28},{"ms":932,"pA":13},{"ms":934,"pA":26},{"ms":936,"pA":28},{"ms":938,"pA":25},{"ms":940,"pA":27},{"ms":942,"pA":24},{"ms":944,"pA":28},
      {"ms":946,"pA":26},{"ms":948,"pA":27},{"ms":950,"pA":25},{"ms":952,"pA":14},{"ms":954,"pA":24},{"ms":956,"pA":26}
    ]
  },
  "resolve": {"scale": {"y": "independent"}},
  "layer": [
    {
      "layer": [
        {
          "data": {"values": [{"pA": 0}, {"pA": 12.1}, {"pA": 24.2}, {"pA": 36.3}, {"pA": 48.4}, {"pA": 60.5}]},
          "mark": {"type": "rule", "color": "#8c8c8c", "strokeWidth": 1, "strokeDash": [1.5, 2.5]},
          "encoding": {
            "x": {"datum": -4, "type": "quantitative", "scale": {"domain": [-65.8, 957.5], "nice": false, "zero": false}, "axis": null},
            "x2": {"datum": 957.5},
            "y": {"field": "pA", "type": "quantitative", "scale": {"domain": [-154.75, 104.18], "nice": false, "zero": false}, "axis": null}
          }
        },
        {
          "data": {"values": [{"state": "o1", "pA": 12.1}, {"state": "o2", "pA": 24.2}, {"state": "o3", "pA": 36.3}, {"state": "o4", "pA": 48.4}, {"state": "o5", "pA": 60.5}]},
          "mark": {"type": "text", "align": "right", "baseline": "alphabetic", "dy": 5, "fontSize": 24},
          "encoding": {
            "x": {"datum": -6.8, "type": "quantitative", "scale": {"domain": [-65.8, 957.5], "nice": false, "zero": false}, "axis": null},
            "y": {"field": "pA", "type": "quantitative", "scale": {"domain": [-154.75, 104.18], "nice": false, "zero": false}, "axis": null},
            "text": {"field": "state"}
          }
        },
        {
          "data": {"values": [{"pA": 0}]},
          "mark": {"type": "rule", "color": "#111111", "strokeWidth": 4},
          "encoding": {
            "x": {"datum": -35.6, "type": "quantitative", "scale": {"domain": [-65.8, 957.5], "nice": false, "zero": false}, "axis": null},
            "x2": {"datum": -6.8},
            "y": {"field": "pA", "type": "quantitative", "scale": {"domain": [-154.75, 104.18], "nice": false, "zero": false}, "axis": null}
          }
        },
        {
          "data": {"name": "kontrola"},
          "mark": {"type": "line", "color": "#0a0a0a", "strokeWidth": 1.3},
          "encoding": {
            "x": {"field": "ms", "type": "quantitative", "scale": {"domain": [-65.8, 957.5], "nice": false, "zero": false}, "axis": null},
            "y": {"field": "pA", "type": "quantitative", "scale": {"domain": [-154.75, 104.18], "nice": false, "zero": false}, "axis": null}
          }
        },
        {
          "data": {"values": [{}]},
          "mark": {"type": "text", "align": "center", "baseline": "alphabetic", "fontSize": 32},
          "encoding": {
            "x": {"datum": 420, "type": "quantitative", "scale": {"domain": [-65.8, 957.5], "nice": false, "zero": false}, "axis": null},
            "y": {"datum": 90.25, "type": "quantitative", "scale": {"domain": [-154.75, 104.18], "nice": false, "zero": false}, "axis": null},
            "text": {"value": "Napięcie +40 mV"}
          }
        },
        {
          "data": {"values": [{}]},
          "mark": {"type": "text", "align": "left", "baseline": "alphabetic", "fontSize": 32},
          "encoding": {
            "x": {"datum": 26, "type": "quantitative", "scale": {"domain": [-65.8, 957.5], "nice": false, "zero": false}, "axis": null},
            "y": {"datum": 66, "type": "quantitative", "scale": {"domain": [-154.75, 104.18], "nice": false, "zero": false}, "axis": null},
            "text": {"value": "kontrola [100 µM Ca"}
          }
        },
        {
          "data": {"values": [{}]},
          "mark": {"type": "text", "align": "left", "baseline": "alphabetic", "fontSize": 18},
          "encoding": {
            "x": {"datum": 422, "type": "quantitative", "scale": {"domain": [-65.8, 957.5], "nice": false, "zero": false}, "axis": null},
            "y": {"datum": 72.75, "type": "quantitative", "scale": {"domain": [-154.75, 104.18], "nice": false, "zero": false}, "axis": null},
            "text": {"value": "2+"}
          }
        },
        {
          "data": {"values": [{}]},
          "mark": {"type": "text", "align": "left", "baseline": "alphabetic", "fontSize": 32},
          "encoding": {
            "x": {"datum": 449, "type": "quantitative", "scale": {"domain": [-65.8, 957.5], "nice": false, "zero": false}, "axis": null},
            "y": {"datum": 66, "type": "quantitative", "scale": {"domain": [-154.75, 104.18], "nice": false, "zero": false}, "axis": null},
            "text": {"value": "]"}
          }
        }
      ]
    },
    {
      "layer": [
        {
          "data": {"values": [{"pA": 0}]},
          "mark": {"type": "rule", "color": "#111111", "strokeWidth": 4},
          "encoding": {
            "x": {"datum": -35.6, "type": "quantitative", "scale": {"domain": [-65.8, 957.5], "nice": false, "zero": false}, "axis": null},
            "x2": {"datum": -6.8},
            "y": {"field": "pA", "type": "quantitative", "scale": {"domain": [-115.71, 143.21], "nice": false, "zero": false}, "axis": null}
          }
        },
        {
          "data": {"name": "hemina"},
          "mark": {"type": "line", "color": "#141414", "strokeWidth": 2},
          "encoding": {
            "x": {"field": "ms", "type": "quantitative", "scale": {"domain": [-65.8, 957.5], "nice": false, "zero": false}, "axis": null},
            "y": {"field": "pA", "type": "quantitative", "scale": {"domain": [-115.71, 143.21], "nice": false, "zero": false}, "axis": null}
          }
        },
        {
          "data": {"values": [{}]},
          "mark": {"type": "text", "align": "left", "baseline": "alphabetic", "fontSize": 32},
          "encoding": {
            "x": {"datum": 23, "type": "quantitative", "scale": {"domain": [-65.8, 957.5], "nice": false, "zero": false}, "axis": null},
            "y": {"datum": 15.7, "type": "quantitative", "scale": {"domain": [-115.71, 143.21], "nice": false, "zero": false}, "axis": null},
            "text": {"value": "500 nM hemina"}
          }
        }
      ]
    },
    {
      "layer": [
        {
          "data": {"values": [{"pA": 0}, {"pA": 13}, {"pA": 26}, {"pA": 39}]},
          "mark": {"type": "rule", "color": "#8c8c8c", "strokeWidth": 1, "strokeDash": [1.5, 2.5]},
          "encoding": {
            "x": {"datum": -4, "type": "quantitative", "scale": {"domain": [-65.8, 957.5], "nice": false, "zero": false}, "axis": null},
            "x2": {"datum": 957.5},
            "y": {"field": "pA", "type": "quantitative", "scale": {"domain": [-40.71, 218.21], "nice": false, "zero": false}, "axis": null}
          }
        },
        {
          "data": {"values": [{"state": "o1", "pA": 13}, {"state": "o2", "pA": 26}, {"state": "o3", "pA": 39}]},
          "mark": {"type": "text", "align": "right", "baseline": "alphabetic", "dy": 5, "fontSize": 24},
          "encoding": {
            "x": {"datum": -6.8, "type": "quantitative", "scale": {"domain": [-65.8, 957.5], "nice": false, "zero": false}, "axis": null},
            "y": {"field": "pA", "type": "quantitative", "scale": {"domain": [-40.71, 218.21], "nice": false, "zero": false}, "axis": null},
            "text": {"field": "state"}
          }
        },
        {
          "data": {"values": [{"pA": 0}]},
          "mark": {"type": "rule", "color": "#111111", "strokeWidth": 4},
          "encoding": {
            "x": {"datum": -35.6, "type": "quantitative", "scale": {"domain": [-65.8, 957.5], "nice": false, "zero": false}, "axis": null},
            "x2": {"datum": -6.8},
            "y": {"field": "pA", "type": "quantitative", "scale": {"domain": [-40.71, 218.21], "nice": false, "zero": false}, "axis": null}
          }
        },
        {
          "data": {"name": "wapn"},
          "mark": {"type": "line", "color": "#0a0a0a", "strokeWidth": 1.3},
          "encoding": {
            "x": {"field": "ms", "type": "quantitative", "scale": {"domain": [-65.8, 957.5], "nice": false, "zero": false}, "axis": null},
            "y": {"field": "pA", "type": "quantitative", "scale": {"domain": [-40.71, 218.21], "nice": false, "zero": false}, "axis": null}
          }
        },
        {
          "data": {"values": [{}]},
          "mark": {"type": "text", "align": "left", "baseline": "alphabetic", "fontSize": 32},
          "encoding": {
            "x": {"datum": 23, "type": "quantitative", "scale": {"domain": [-65.8, 957.5], "nice": false, "zero": false}, "axis": null},
            "y": {"datum": 48.2, "type": "quantitative", "scale": {"domain": [-40.71, 218.21], "nice": false, "zero": false}, "axis": null},
            "text": {"value": "100 µM Ca"}
          }
        },
        {
          "data": {"values": [{}]},
          "mark": {"type": "text", "align": "left", "baseline": "alphabetic", "fontSize": 18},
          "encoding": {
            "x": {"datum": 238, "type": "quantitative", "scale": {"domain": [-65.8, 957.5], "nice": false, "zero": false}, "axis": null},
            "y": {"datum": 53.5, "type": "quantitative", "scale": {"domain": [-40.71, 218.21], "nice": false, "zero": false}, "axis": null},
            "text": {"value": "2+"}
          }
        },
        {
          "data": {"values": [{}]},
          "mark": {"type": "rule", "color": "#111111", "strokeWidth": 2.5},
          "encoding": {
            "x": {"datum": -34.2, "type": "quantitative", "scale": {"domain": [-65.8, 957.5], "nice": false, "zero": false}, "axis": null},
            "x2": {"datum": -8.2},
            "y": {"datum": -16.1, "type": "quantitative", "scale": {"domain": [-40.71, 218.21], "nice": false, "zero": false}, "axis": null}
          }
        },
        {
          "data": {"values": [{"symbol": "o", "text": "stan otwarty kanału", "pA": -36.4}, {"symbol": "", "text": "stan zamknięty kanału", "pA": -19.3}]},
          "layer": [
            {
              "mark": {"type": "text", "align": "left", "baseline": "alphabetic", "fontSize": 25},
              "encoding": {
                "x": {"datum": -34.2, "type": "quantitative", "scale": {"domain": [-65.8, 957.5], "nice": false, "zero": false}, "axis": null},
                "y": {"field": "pA", "type": "quantitative", "scale": {"domain": [-40.71, 218.21], "nice": false, "zero": false}, "axis": null},
                "text": {"field": "symbol"}
              }
            },
            {
              "mark": {"type": "text", "align": "left", "baseline": "alphabetic", "fontSize": 26},
              "encoding": {
                "x": {"datum": 27.4, "type": "quantitative", "scale": {"domain": [-65.8, 957.5], "nice": false, "zero": false}, "axis": null},
                "y": {"field": "pA", "type": "quantitative", "scale": {"domain": [-40.71, 218.21], "nice": false, "zero": false}, "axis": null},
                "text": {"field": "text"}
              }
            }
          ]
        },
        {
          "data": {"values": [{}]},
          "mark": {"type": "rule", "color": "#2a2a2a", "strokeWidth": 2},
          "encoding": {
            "x": {"datum": 633, "type": "quantitative", "scale": {"domain": [-65.8, 957.5], "nice": false, "zero": false}, "axis": null},
            "x2": {"datum": 833},
            "y": {"datum": -20.7, "type": "quantitative", "scale": {"domain": [-40.71, 218.21], "nice": false, "zero": false}, "axis": null}
          }
        },
        {
          "data": {"values": [{}]},
          "mark": {"type": "rule", "color": "#2a2a2a", "strokeWidth": 2},
          "encoding": {
            "x": {"datum": 833, "type": "quantitative", "scale": {"domain": [-65.8, 957.5], "nice": false, "zero": false}, "axis": null},
            "y": {"datum": -20.7, "type": "quantitative", "scale": {"domain": [-40.71, 218.21], "nice": false, "zero": false}, "axis": null},
            "y2": {"datum": -40.7}
          }
        },
        {
          "data": {"values": [{}]},
          "mark": {"type": "text", "align": "center", "baseline": "alphabetic", "fontSize": 26},
          "encoding": {
            "x": {"datum": 733, "type": "quantitative", "scale": {"domain": [-65.8, 957.5], "nice": false, "zero": false}, "axis": null},
            "y": {"datum": -15, "type": "quantitative", "scale": {"domain": [-40.71, 218.21], "nice": false, "zero": false}, "axis": null},
            "text": {"value": "0,2 s"}
          }
        },
        {
          "data": {"values": [{}]},
          "mark": {"type": "text", "align": "left", "baseline": "alphabetic", "fontSize": 26},
          "encoding": {
            "x": {"datum": 862, "type": "quantitative", "scale": {"domain": [-65.8, 957.5], "nice": false, "zero": false}, "axis": null},
            "y": {"datum": -34.3, "type": "quantitative", "scale": {"domain": [-40.71, 218.21], "nice": false, "zero": false}, "axis": null},
            "text": {"value": "20 pA"}
          }
        }
      ]
    }
  ]
}
